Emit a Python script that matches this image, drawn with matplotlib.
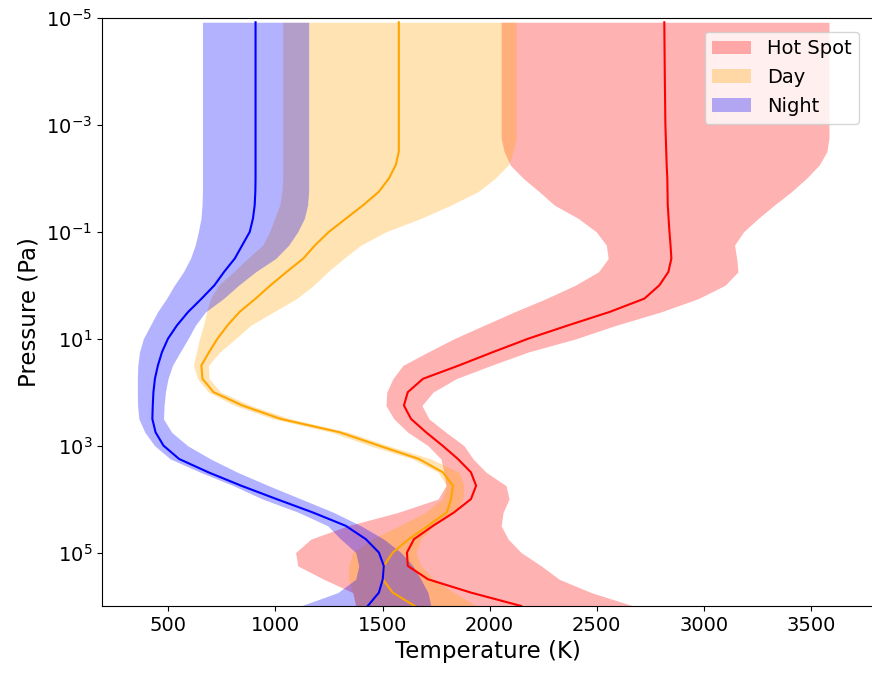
import numpy as np
import matplotlib
matplotlib.use("Agg")
import matplotlib.pyplot as plt
import matplotlib.ticker as mticker

# pressure levels, as log10(P / Pa)
p_exp = [-4.92, -4, -3, -2.75, -2.5, -2.25, -2, -1.75, -1.5, -1.25, -1, -0.75,
         -0.5, -0.25, 0, 0.25, 0.5, 0.75, 1, 1.25, 1.5, 1.75, 2, 2.25, 2.5,
         2.75, 3, 3.25, 3.5, 3.75, 4, 4.25, 4.5, 4.75, 5, 5.25, 5.5, 5.75, 6]

# Hot spot profile (K): median, lower and upper bounds
hot_mid = [2816, 2818, 2821, 2823, 2825, 2827, 2830, 2831, 2832, 2836, 2840, 2845,
           2849, 2835, 2793, 2723, 2560, 2367, 2180, 2016, 1857, 1689, 1618, 1600, 1633,
           1703, 1780, 1852, 1913, 1937, 1913, 1834, 1736, 1647, 1614, 1618, 1712, 1913, 2147]
hot_lo = [2054, 2054, 2054, 2054, 2068, 2096, 2157, 2232, 2302, 2414, 2498, 2545,
          2554, 2508, 2400, 2264, 2115, 1974, 1834, 1712, 1595, 1548, 1520, 1516, 1553,
          1618, 1712, 1773, 1787, 1796, 1759, 1572, 1338, 1165, 1094, 1104, 1225, 1361, 1375]
hot_hi = [3585, 3585, 3585, 3585, 3575, 3540, 3480, 3410, 3330, 3255, 3186, 3144,
          3154, 3160, 3100, 2975, 2800, 2590, 2405, 2180, 2007, 1843, 1736, 1684, 1717,
          1796, 1880, 1923, 1984, 2077, 2091, 2063, 2054, 2087, 2147, 2241, 2325, 2475, 2672]

# Day side profile (K)
day_mid = [1576, 1576, 1576, 1576, 1576, 1562, 1530, 1483, 1410, 1330, 1250, 1185,
           1130, 1052, 977, 907, 832, 776, 729, 690, 654, 659, 711, 846, 1024,
           1300, 1483, 1670, 1782, 1829, 1820, 1800, 1712, 1623, 1548, 1506, 1501, 1548, 1650]
day_lo = [1034, 1034, 1034, 1034, 1034, 1034, 1034, 1030, 1020, 996, 973, 940,
          870, 804, 734, 697, 678, 664, 645, 631, 617, 636, 687, 810, 990,
          1260, 1440, 1640, 1760, 1800, 1780, 1700, 1580, 1450, 1361, 1342, 1342, 1361, 1375]
day_hi = [2124, 2124, 2124, 2124, 2110, 2087, 2026, 1946, 1820, 1679, 1516, 1399,
          1319, 1244, 1179, 1099, 991, 884, 814, 740, 687, 690, 745, 885, 1070,
          1340, 1525, 1726, 1857, 1880, 1876, 1834, 1740, 1679, 1656, 1679, 1740, 1834, 1937]

# Night side profile (K)
night_mid = [907, 907, 907, 907, 907, 907, 907, 906, 903, 895, 880, 845,
             810, 760, 715, 655, 592, 540, 498, 470, 451, 437, 430, 427, 425,
             440, 477, 550, 687, 840, 1005, 1174, 1328, 1422, 1483, 1506, 1501, 1483, 1431]
night_lo = [659, 659, 659, 659, 659, 659, 659, 659, 657, 652, 640, 625,
            603, 570, 528, 491, 449, 416, 383, 365, 357, 355, 355, 356, 362,
            390, 435, 509, 650, 804, 940, 1108, 1244, 1305, 1375, 1389, 1375, 1291, 1118]
night_hi = [1155, 1155, 1155, 1155, 1155, 1155, 1155, 1155, 1150, 1135, 1104, 1062,
            1001, 907, 828, 757, 673, 626, 592, 555, 519, 498, 486, 480, 477,
            515, 589, 697, 823, 968, 1120, 1272, 1399, 1506, 1586, 1642, 1679, 1712, 1726]

pressure = 10.0 ** np.array(p_exp)

fig = plt.figure(figsize=(8.72, 6.73), dpi=100)
ax = fig.add_axes([0.117, 0.0996, 0.884, 0.8737])

# shaded ranges
ax.fill_betweenx(pressure, hot_lo, hot_hi, color='red', alpha=0.3, linewidth=0, label='Hot Spot')
ax.fill_betweenx(pressure, day_lo, day_hi, color='orange', alpha=0.3, linewidth=0, label='Day')
ax.fill_betweenx(pressure, night_lo, night_hi, color='blue', alpha=0.3, linewidth=0, label='Night')

# median profiles
ax.plot(hot_mid, pressure, color='red', linewidth=1.5)
ax.plot(day_mid, pressure, color='orange', linewidth=1.5)
ax.plot(night_mid, pressure, color='blue', linewidth=1.5)

ax.set_yscale('log')
ax.set_ylim(1e6, 1e-5)
ax.set_xlim(190, 3790)
ax.yaxis.set_major_locator(mticker.FixedLocator([1e-5, 1e-3, 1e-1, 1e1, 1e3, 1e5]))
ax.yaxis.set_minor_locator(mticker.NullLocator())
ax.xaxis.set_major_locator(mticker.MultipleLocator(500))
ax.tick_params(labelsize=14)

ax.set_xlabel('Temperature (K)', fontsize=16.5)
ax.set_ylabel('Pressure (Pa)', fontsize=16.5)
ax.spines['right'].set_visible(False)

ax.legend(loc='upper right', fontsize=14, borderaxespad=0.7)

fig.savefig('out.png', dpi=100)
